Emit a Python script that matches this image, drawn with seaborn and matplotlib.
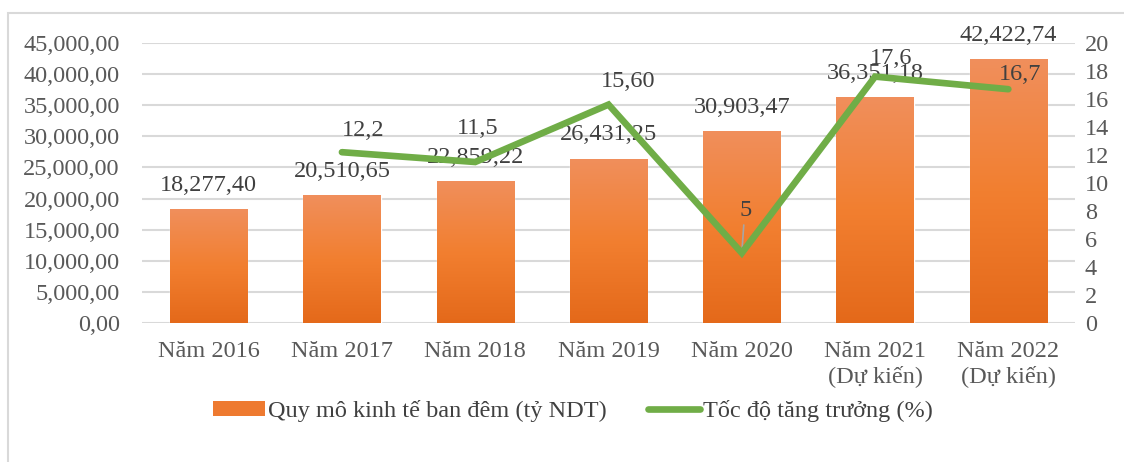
import numpy as np
import pandas as pd
import matplotlib
matplotlib.use('Agg')
import matplotlib.pyplot as plt
from matplotlib.colors import LinearSegmentedColormap
from matplotlib.patches import Rectangle, Patch
from matplotlib.lines import Line2D
import seaborn as sns

years = ['Năm 2016', 'Năm 2017', 'Năm 2018', 'Năm 2019', 'Năm 2020',
         'Năm 2021\n(Dự kiến)', 'Năm 2022\n(Dự kiến)']
scale = [18277.40, 20510.65, 22859.22, 26431.25, 30903.47, 36351.18, 42422.74]
growth_years = years[1:]
growth = [12.2, 11.5, 15.6, 5.0, 17.6, 16.7]
growth_labels = ['12,2', '11,5', '15,60', '5', '17,6', '16,7']

bar_name = 'Quy mô kinh tế ban đêm (tỷ NDT)'
line_name = 'Tốc độ tăng trưởng (%)'

sns.set_theme(style='white')
plt.rcParams['font.family'] = ['Liberation Serif', 'DejaVu Serif']
text_col = '#404040'
tick_col = '#595959'
grid_col = '#D9D9D9'
green = '#70AD47'
fs = 17.5

df = pd.DataFrame({'year': years, 'scale': scale})

fig = plt.figure(figsize=(11.24, 4.62), dpi=100)
ax = fig.add_axes([142 / 1124, 139 / 462, 933 / 1124, 280 / 462])

sns.barplot(data=df, x='year', y='scale', color='#F07F30', width=0.58,
            ax=ax, zorder=3, saturation=1)

# gradient fill for bars
cmap = LinearSegmentedColormap.from_list('og', ['#E4691A', '#F27F30', '#F08F5C'])
grad = np.linspace(0, 1, 256).reshape(-1, 1)
for p in ax.patches:
    x0, y0 = p.get_x(), p.get_y()
    w, h = p.get_width(), p.get_height()
    im = ax.imshow(grad, extent=[x0, x0 + w, y0, y0 + h], origin='lower',
                   aspect='auto', cmap=cmap, zorder=3.1)
    im.set_clip_path(p)

ax.set_xlim(-0.5, 6.5)
ax.set_ylim(0, 45000)
ax.set_yticks(np.arange(0, 45001, 5000))
ax.set_yticklabels([f'{v:,.2f}'.replace('.', ',') for v in np.arange(0, 45001, 5000)])
ax.grid(axis='y', color=grid_col, lw=1.5, zorder=0)
ax.grid(axis='x', visible=False)
for s in ax.spines.values():
    s.set_visible(False)
ax.set_xlabel('')
ax.set_ylabel('')
ax.tick_params(axis='y', length=0, pad=16, labelsize=fs, labelcolor=tick_col)
ax.tick_params(axis='x', length=0, pad=13, labelsize=fs, labelcolor=tick_col)

for i, v in enumerate(scale):
    ax.annotate(f'{v:,.2f}'.replace('.', ','), (i, v), xytext=(0, 17),
                textcoords='offset points', ha='center', va='center',
                fontsize=fs, color=text_col, zorder=5)

ax2 = ax.twinx()
gx = [years.index(y) for y in growth_years]
sns.lineplot(x=gx, y=growth, ax=ax2, color=green, lw=4.8,
             solid_capstyle='round', solid_joinstyle='miter', zorder=4)
ax2.set_ylim(0, 20)
ax2.set_yticks(np.arange(0, 21, 2))
for s in ax2.spines.values():
    s.set_visible(False)
ax2.tick_params(axis='y', length=0, pad=7, labelsize=fs, labelcolor=tick_col)
ax2.set_ylabel('')
ax2.set_xlim(-0.5, 6.5)

offsets = [(21, 22), (2, 33), (20, 23), (4, 43), (16, 18), (12, 15)]
for xi, v, lab, (dx, dy) in zip(gx, growth, growth_labels, offsets):
    ax2.annotate(lab, (xi, v), xytext=(dx * 0.72, dy * 0.72),
                 textcoords='offset points', ha='center', va='center',
                 fontsize=fs, color=text_col, zorder=6)
# leader line for the small label
ax2.annotate('', (gx[3], growth[3]), xytext=(2 * 0.72, 28 * 0.72),
             textcoords='offset points',
             arrowprops=dict(arrowstyle='-', color='#A6A6A6', lw=1.2, shrinkA=0, shrinkB=2))

handles = [Patch(facecolor='#EE7A30', edgecolor='none'),
           Line2D([0], [0], color=green, lw=4.8, solid_capstyle='round')]
fig.legend(handles, [bar_name, line_name], loc='center left',
           bbox_to_anchor=(213 / 1124, 51 / 462), ncol=2, frameon=False,
           fontsize=fs, handlelength=2.14, handletextpad=0.12,
           columnspacing=1.7, borderpad=0, borderaxespad=0,
           labelcolor=text_col, handleheight=0.53)

fig.patches.append(Rectangle((8 / 1124, -0.05), 1.1, (462 - 13) / 462 + 0.05,
                             transform=fig.transFigure, fill=False,
                             edgecolor=grid_col, lw=1.5))

fig.savefig('out.png', dpi=100)
